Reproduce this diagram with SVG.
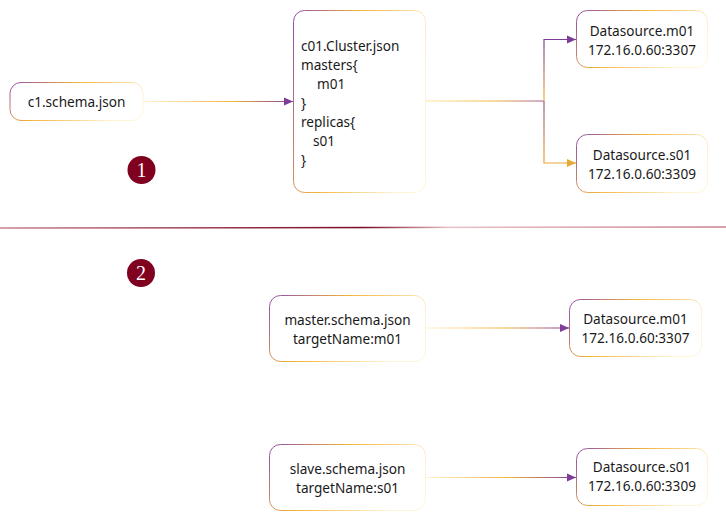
<svg xmlns="http://www.w3.org/2000/svg" width="726" height="519" viewBox="0 0 726 519">
<style>
.box{fill:#fff;stroke:url(#bg);stroke-width:1}
.t{font-family:"Noto Sans","Open Sans",sans-serif;font-size:13.6px;fill:#1a1a1a}
.c{text-anchor:middle}
.num{font-family:"Liberation Serif",serif;font-size:20px;fill:#fff;text-anchor:middle}
.conn{fill:none;stroke-width:1.2}
</style>
<defs>
<linearGradient id="bg" x1="0" y1="0" x2="1" y2="0.35">
<stop offset="0" stop-color="#8E4BA8"/>
<stop offset="0.45" stop-color="#F2B33A"/>
<stop offset="1" stop-color="#FFF4D6"/>
</linearGradient>
<linearGradient id="g1" gradientUnits="userSpaceOnUse" x1="143" y1="0" x2="293" y2="0">
<stop offset="0" stop-color="#FFF4D6"/>
<stop offset="0.6" stop-color="#F2B33A"/>
<stop offset="1" stop-color="#7D3C98"/>
</linearGradient>
<linearGradient id="g2" gradientUnits="userSpaceOnUse" x1="426" y1="0" x2="544" y2="0">
<stop offset="0" stop-color="#FFE7A8"/>
<stop offset="0.6" stop-color="#F2B33A"/>
<stop offset="1" stop-color="#9A5A8A"/>
</linearGradient>
<linearGradient id="g3" gradientUnits="userSpaceOnUse" x1="0" y1="101" x2="0" y2="40">
<stop offset="0" stop-color="#F2B33A"/>
<stop offset="1" stop-color="#7D3C98"/>
</linearGradient>
<linearGradient id="g4" gradientUnits="userSpaceOnUse" x1="0" y1="101" x2="0" y2="163">
<stop offset="0" stop-color="#9A5A8A"/>
<stop offset="1" stop-color="#E8A838"/>
</linearGradient>
<linearGradient id="g5" gradientUnits="userSpaceOnUse" x1="426" y1="0" x2="569" y2="0">
<stop offset="0" stop-color="#FFF4D6"/>
<stop offset="0.55" stop-color="#F2B33A"/>
<stop offset="1" stop-color="#7D3C98"/>
</linearGradient>
<linearGradient id="g6" gradientUnits="userSpaceOnUse" x1="426" y1="0" x2="576" y2="0">
<stop offset="0" stop-color="#FFF4D6"/>
<stop offset="0.55" stop-color="#F2B33A"/>
<stop offset="1" stop-color="#7D3C98"/>
</linearGradient>
<linearGradient id="sep" x1="0" y1="0" x2="1" y2="0">
<stop offset="0" stop-color="#C9808E"/>
<stop offset="0.5" stop-color="#7A0A22"/>
<stop offset="0.62" stop-color="#E8C2C8"/>
<stop offset="1" stop-color="#C9808E"/>
</linearGradient>
<marker id="ap" markerWidth="10" markerHeight="10" refX="9" refY="5" orient="auto" markerUnits="userSpaceOnUse">
<path d="M0,1 L9,5 L0,9 Z" fill="#7D3C98"/>
</marker>
<marker id="ao" markerWidth="10" markerHeight="10" refX="9" refY="5" orient="auto" markerUnits="userSpaceOnUse">
<path d="M0,1 L9,5 L0,9 Z" fill="#E8A838"/>
</marker>
</defs>

<g id="connectors">
<path class="conn" d="M143,101.5 H293" stroke="url(#g1)" marker-end="url(#ap)"/>
<path class="conn" d="M426,101 H544" stroke="url(#g2)"/>
<path class="conn" d="M544,101 V39.5 H576" stroke="url(#g3)" marker-end="url(#ap)"/>
<path class="conn" d="M544,101 V163 H576" stroke="url(#g4)" marker-end="url(#ao)"/>
<path class="conn" d="M426,328 H569" stroke="url(#g5)" marker-end="url(#ap)"/>
<path class="conn" d="M426,477.5 H576" stroke="url(#g6)" marker-end="url(#ap)"/>
</g>

<g id="separator">
<line x1="0" y1="228" x2="726" y2="227" stroke="url(#sep)" stroke-width="1.5"/>
</g>

<g id="c1schema">
<rect class="box" x="10" y="82.5" width="133" height="38" rx="11"/>
<text class="t c" x="76.5" y="106.5">c1.schema.json</text>
</g>

<g id="cluster">
<rect class="box" x="293.5" y="10.5" width="132" height="182" rx="11"/>
<text class="t" x="301" y="51">c01.Cluster.json</text>
<text class="t" x="301" y="70">masters{</text>
<text class="t" x="317" y="89">m01</text>
<text class="t" x="301" y="108">}</text>
<text class="t" x="301" y="127">replicas{</text>
<text class="t" x="313" y="146">s01</text>
<text class="t" x="301" y="165">}</text>
</g>

<g id="ds-m01-top">
<rect class="box" x="576.5" y="10.5" width="131" height="57" rx="11"/>
<text class="t c" x="642" y="36">Datasource.m01</text>
<text class="t c" x="642" y="55">172.16.0.60:3307</text>
</g>

<g id="ds-s01-top">
<rect class="box" x="576.5" y="134.5" width="131" height="58" rx="11"/>
<text class="t c" x="642" y="160">Datasource.s01</text>
<text class="t c" x="642" y="179">172.16.0.60:3309</text>
</g>

<g id="badge1">
<circle cx="141.5" cy="170" r="14" fill="#800020"/>
<text class="num" x="141.5" y="177">1</text>
</g>

<g id="badge2">
<circle cx="141" cy="273" r="14" fill="#800020"/>
<text class="num" x="141" y="280">2</text>
</g>

<g id="master-schema">
<rect class="box" x="269.5" y="295.5" width="156" height="66" rx="11"/>
<text class="t c" x="347.5" y="325">master.schema.json</text>
<text class="t c" x="347.5" y="344">targetName:m01</text>
</g>

<g id="ds-m01-bottom">
<rect class="box" x="569.5" y="299.5" width="132" height="57" rx="11"/>
<text class="t c" x="635.5" y="324">Datasource.m01</text>
<text class="t c" x="635.5" y="343">172.16.0.60:3307</text>
</g>

<g id="slave-schema">
<rect class="box" x="269.5" y="444.5" width="156" height="66" rx="11"/>
<text class="t c" x="347.5" y="474">slave.schema.json</text>
<text class="t c" x="347.5" y="493">targetName:s01</text>
</g>

<g id="ds-s01-bottom">
<rect class="box" x="576.5" y="448.5" width="131" height="57" rx="11"/>
<text class="t c" x="642" y="472">Datasource.s01</text>
<text class="t c" x="642" y="491">172.16.0.60:3309</text>
</g>
</svg>
